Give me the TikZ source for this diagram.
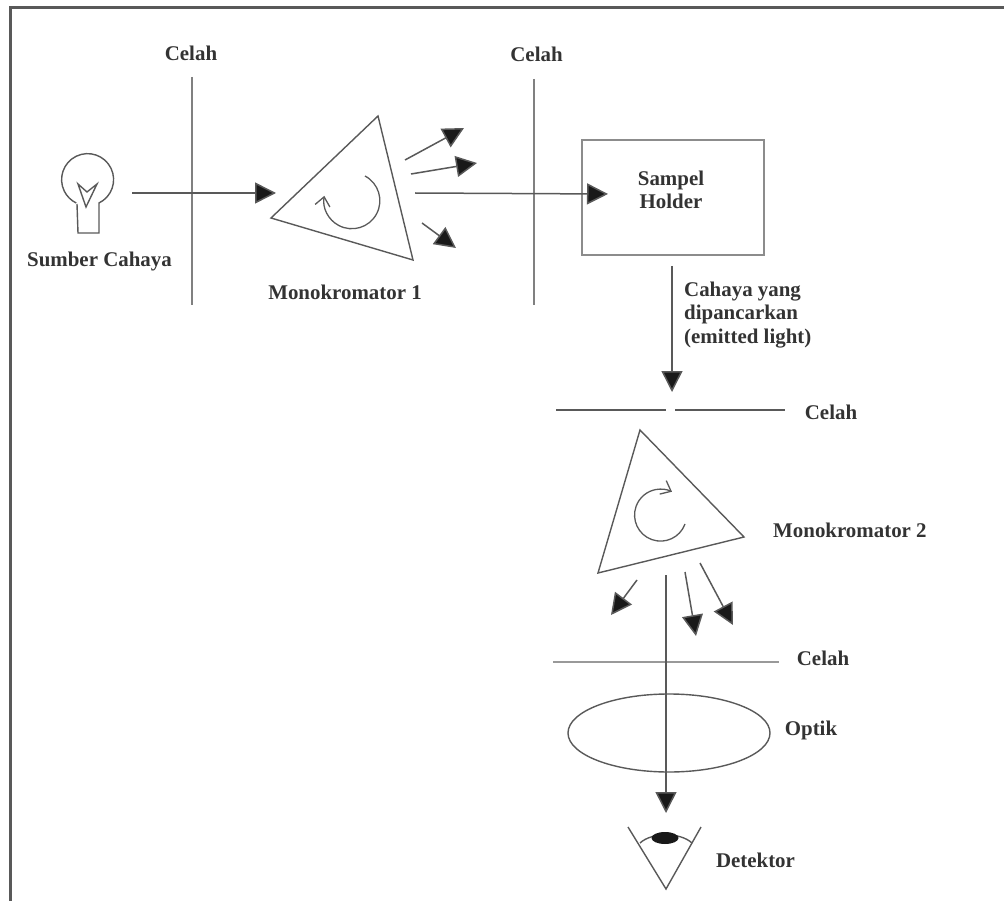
\documentclass[tikz,border=0pt]{standalone}
\usepackage{fontspec}
\setmainfont{Liberation Serif}
\usetikzlibrary{arrows.meta,shapes.geometric}
\definecolor{ln}{gray}{0.35}
\definecolor{txt}{gray}{0.2}
\tikzset{
  x=1pt,y=-1pt,
  frameline/.style={draw=black!65,line width=2.6pt},
  part/.style={draw=ln,line width=1.4pt},
  slit/.style={draw=black!50,line width=1.7pt},
  ray/.style={draw=ln,line width=1.5pt,-{Triangle[length=21pt,width=21pt,fill=black!90]}},
  spin/.style={draw=ln,line width=1.3pt,-{Straight Barb[length=9pt,width=15pt]}},
  label/.style={font=\fontsize{20.9}{23.5}\selectfont\bfseries,text=txt,inner sep=0pt,align=left}
}
\begin{document}
\begin{tikzpicture}
\useasboundingbox (0,0) rectangle (1004,901);
% frame
\coordinate (f1) at (10.5,901);
\coordinate (f2) at (10.5,7.5);
\coordinate (f3) at (1004,7.5);
\draw[frameline] (f1) -- (f2) -- (f3);
% lamp
\coordinate (l1) at (77,204);
\coordinate (l2) at (78,233);
\coordinate (l3) at (99,233);
\coordinate (l4) at (99,203);
\draw[part] (l1) -- (l2) -- (l3) -- (l4) arc[start angle=-64,end angle=244,x radius=26,y radius=-26];
\coordinate (y1) at (78,184);
\coordinate (y2) at (86,207);
\coordinate (y3) at (97,184);
\coordinate (y4) at (87,192);
\draw[part] (y1) -- (y2) -- (y3) -- (y4) -- cycle;
\node[label,anchor=center] (src) at (99.5,262) {Sumber Cahaya};
% slits with labels
\coordinate (s1a) at (192,77); \coordinate (s1b) at (192,305);
\draw[slit] (s1a) -- (s1b);
\node[label] (c1) at (191,53) {Celah};
\coordinate (s2a) at (534,79); \coordinate (s2b) at (534,305);
\draw[slit] (s2a) -- (s2b);
\node[label] (c2) at (536.5,54) {Celah};
% prism 1
\coordinate (p1a) at (378,116); \coordinate (p1b) at (271,218); \coordinate (p1c) at (413,260);
\draw[part] (p1a) -- (p1b) -- (p1c) -- cycle;
\coordinate (r1) at (365,176);
\draw[spin] (r1) arc[start angle=62,end angle=-190,x radius=28,y radius=-28];
\node[label] (m1) at (345,292) {Monokromator 1};
% lamp to prism
\coordinate (a0) at (132,193);
\coordinate (a1) at (276,193);
\draw[ray] (a0) -- (a1);
% prism 1 fan
\coordinate (b1a) at (405,160); \coordinate (b1b) at (464,128);
\coordinate (b2a) at (411,174); \coordinate (b2b) at (477,163);
\coordinate (b4a) at (422,223); \coordinate (b4b) at (456,248);
\draw[ray] (b1a) -- (b1b);
\draw[ray] (b2a) -- (b2b);
\draw[ray] (b4a) -- (b4b);
% sample holder
\node[draw=black!45,line width=1.6pt,minimum width=182pt,minimum height=115pt,inner sep=0pt] (holder) at (673,197.5) {};
\node[label,align=center] (holdertxt) at (671,190) {Sampel\\Holder};
\coordinate (b3a) at (415,193);
\coordinate (b3b) at (608,194);
\draw[ray] (b3a) -- (b3b);
% emitted
\coordinate (e1) at (672,266);
\coordinate (e2) at (672,392);
\draw[ray] (e1) -- (e2);
\node[label,anchor=west] (em) at (684,315) {Cahaya yang\\dipancarkan\\(emitted light)};
% slit 3
\coordinate (s3a) at (556,410); \coordinate (s3b) at (666,410);
\coordinate (s3c) at (675,410); \coordinate (s3d) at (785,410);
\draw[part] (s3a) -- (s3b) (s3c) -- (s3d);
\node[label] (c3) at (831,412) {Celah};
% prism 2
\coordinate (p2a) at (640,430); \coordinate (p2b) at (744,537); \coordinate (p2c) at (598,573);
\draw[part] (p2a) -- (p2b) -- (p2c) -- cycle;
\coordinate (r2) at (685,524);
\draw[spin] (r2) arc[start angle=-20,end angle=-296,x radius=26,y radius=-26];
\node[label,anchor=west] (m2) at (773,530) {Monokromator 2};
% prism 2 fan
\coordinate (d1a) at (637,580); \coordinate (d1b) at (611,615);
\coordinate (d3a) at (685,572); \coordinate (d3b) at (696,636);
\coordinate (d4a) at (700,563); \coordinate (d4b) at (733,625);
\draw[ray] (d1a) -- (d1b);
\draw[ray] (d3a) -- (d3b);
\draw[ray] (d4a) -- (d4b);
% slit 4
\coordinate (s4a) at (553,662); \coordinate (s4b) at (779,662);
\draw[slit,draw=black!40,line width=2.2pt] (s4a) -- (s4b);
\node[label] (c4) at (823,658) {Celah};
% optics
\node[draw=ln,line width=1.4pt,ellipse,minimum width=202pt,minimum height=78pt,inner sep=0pt] (optik) at (669,733) {};
\node[label] (optiktxt) at (811,730) {Optik};
% main ray down
\coordinate (d2a) at (666,575);
\coordinate (d2b) at (666,813);
\draw[ray] (d2a) -- (d2b);
% detector
\coordinate (t1) at (628,827); \coordinate (t2) at (666,889); \coordinate (t3) at (701,827);
\draw[part] (t1) -- (t2) -- (t3);
\coordinate (u1) at (640,843); \coordinate (u2) at (692,843);
\draw[part] (u1) .. controls (652,832) and (680,832) .. (u2);
\node[fill=black!90,ellipse,minimum width=27pt,minimum height=12pt,inner sep=0pt] (pupil) at (665,838) {};
\node[label] (dtxt) at (755.5,860) {Detektor};
\end{tikzpicture}
\end{document}
